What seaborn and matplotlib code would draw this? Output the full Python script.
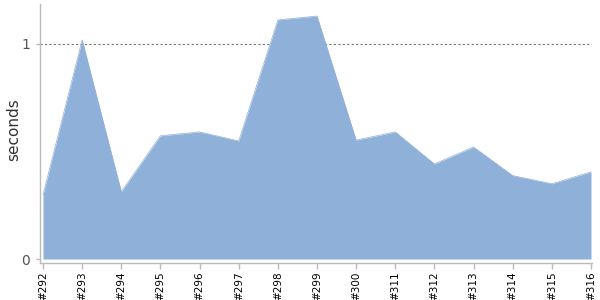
import matplotlib
matplotlib.use("Agg")
import matplotlib.pyplot as plt
import seaborn as sns
import pandas as pd

builds = ["#292", "#293", "#294", "#295", "#296", "#297", "#298", "#299",
          "#300", "#311", "#312", "#313", "#314", "#315", "#316"]
seconds = [0.298, 1.019, 0.313, 0.573, 0.591, 0.549, 1.112, 1.130,
           0.553, 0.591, 0.442, 0.521, 0.388, 0.350, 0.405]

df = pd.DataFrame({"pos": range(len(builds)), "build": builds, "seconds": seconds})

sns.set_style("white")
plt.rcParams['font.family'] = ['DejaVu Sans']

fig = plt.figure(figsize=(6, 3), dpi=100)
ax = fig.add_axes([40/600, 1 - 263/300, 552/600, 259/300])

fill_color = "#8fb0d9"
sns.lineplot(data=df, x="pos", y="seconds", ax=ax, color=fill_color, linewidth=0.5)
ax.fill_between(df["pos"], 0, df["seconds"], color=fill_color, linewidth=0)

ax.axhline(1, color="#777777", linestyle=(0, (2, 2)), linewidth=0.8, zorder=0)

ax.set_xlim(-0.077, 14.026)
ax.set_ylim(-0.0186, 1.186)
ax.set_xticks(df["pos"])
ax.set_xticklabels(builds, rotation=90, fontsize=7.5, color="black")
ax.set_yticks([0, 1])
ax.set_yticklabels(["0", "1"], fontsize=10, color="#555555")
ax.set_xlabel("")
ax.set_ylabel("seconds", fontsize=11, color="#333333")
ax.yaxis.set_label_coords(-0.034, (263 - 130) / 259)

for side in ["top", "right"]:
    ax.spines[side].set_visible(False)
for side in ["left", "bottom"]:
    ax.spines[side].set_color("#bbbbbb")
    ax.spines[side].set_linewidth(1)

ax.tick_params(axis="x", which="both", bottom=True, length=4, width=1, color="#bbbbbb", pad=2)
ax.tick_params(axis="y", which="both", left=True, length=3, width=1, color="#bbbbbb", pad=4)

fig.savefig("out.png", dpi=100)
